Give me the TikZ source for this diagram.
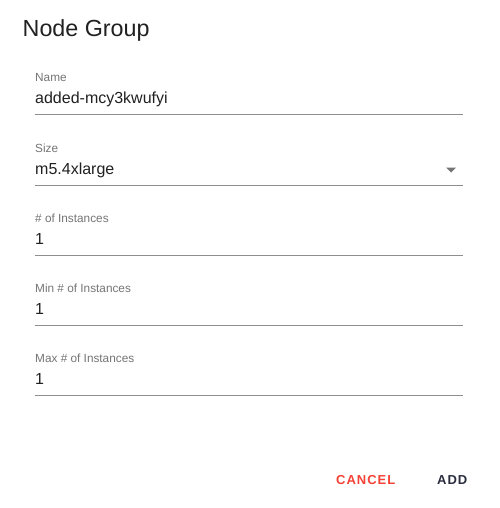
\documentclass[tikz,border=0pt]{standalone}
\usepackage{fontspec}
\setmainfont{Liberation Sans}
\definecolor{lblgray}{HTML}{757575}
\definecolor{valblack}{HTML}{212121}
\definecolor{linegray}{HTML}{8E8E8E}
\definecolor{cancelred}{HTML}{F44336}
\definecolor{addnavy}{HTML}{2A2D3E}
\begin{document}
\begin{tikzpicture}[x=1pt, y=-1pt]
			\tikzset{lbl/.style={anchor=base west, inner sep=0pt, text=lblgray, font=\fontsize{11.8}{14}\selectfont},
			val/.style={anchor=base west, inner sep=0pt, text=valblack, font=\fontsize{16}{19}\selectfont},
			ln/.style={draw=linegray, line width=1pt},
			btn/.style={anchor=base west, inner sep=0pt, font=\fontsize{13}{16}\selectfont\bfseries\addfontfeatures{LetterSpace=7.5}}};

			\useasboundingbox[fill=white] (0,0) rectangle (499,508);

			\node[anchor=base west, inner sep=0pt, text=valblack, font=\fontsize{23.3}{27}\selectfont] (title) at (22.5,37) {Node Group};

			\node[lbl] (namel) at (35,82) {Name};
			\node[val] (namev) at (35,104) {added-mcy3kwufyi};
			\coordinate (n1) at (35,115);
			\coordinate (n2) at (463,115);
			\draw[ln] (n1) -- (n2);

			\node[lbl] (sizel) at (35,152) {Size};
			\node[val] (sizev) at (35,174) {m5.4xlarge};
			\coordinate (s1) at (35,185.5);
			\coordinate (s2) at (463,185.5);
			\draw[ln] (s1) -- (s2);
			\fill[lblgray] (446,167.5) -- (456,167.5) -- (451,172.5) -- cycle;

			\node[lbl] (instl) at (35,222) {\# of Instances};
			\node[val] (instv) at (35,244.5) {1};
			\coordinate (i1) at (35,255.5);
			\coordinate (i2) at (463,255.5);
			\draw[ln] (i1) -- (i2);

			\node[lbl] (minl) at (35,292) {Min \# of Instances};
			\node[val] (minv) at (35,314.5) {1};
			\coordinate (m1) at (35,325.5);
			\coordinate (m2) at (463,325.5);
			\draw[ln] (m1) -- (m2);

			\node[lbl] (maxl) at (35,362) {Max \# of Instances};
			\node[val] (maxv) at (35,384.5) {1};
			\coordinate (x1) at (35,395.5);
			\coordinate (x2) at (463,395.5);
			\draw[ln] (x1) -- (x2);

			\node[btn, text=cancelred] (cancel) at (336,484) {CANCEL};
			\node[btn, text=addnavy] (add) at (437,484) {ADD};
		\end{tikzpicture}
\end{document}
